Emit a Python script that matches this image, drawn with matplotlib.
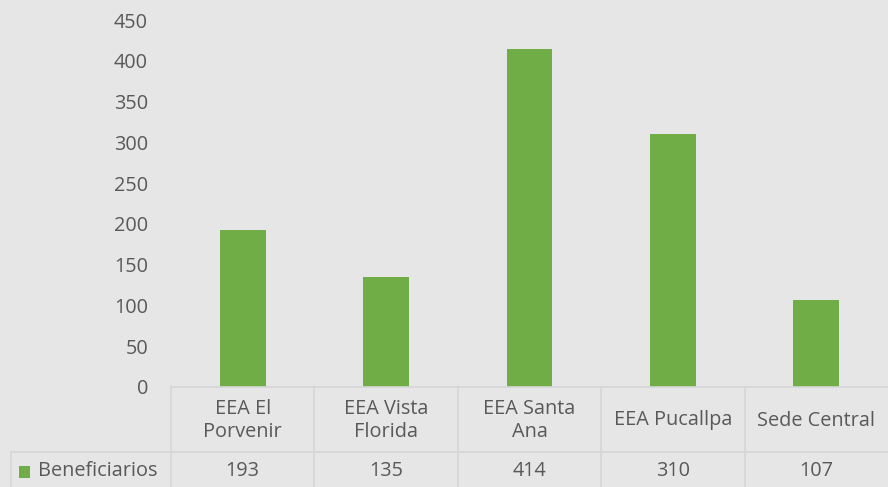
import matplotlib.pyplot as plt
from matplotlib.lines import Line2D
from matplotlib.patches import Rectangle
import matplotlib.transforms as mtransforms

categories = ['EEA El\nPorvenir', 'EEA Vista\nFlorida', 'EEA Santa\nAna', 'EEA Pucallpa', 'Sede Central']
values = [193, 135, 414, 310, 107]
series_name = 'Beneficiarios'
yticks = [0, 50, 100, 150, 200, 250, 300, 350, 400, 450]

BG = '#E7E6E6'
GREEN = '#70AD47'
TXT = '#595959'
GRID = '#D6D6D6'
FS = 14.3

plt.rcParams['font.family'] = ['Open Sans', 'DejaVu Sans']

W, H = 888, 487
fig = plt.figure(figsize=(W / 100, H / 100), dpi=100, facecolor=BG)

# plot area in pixel coords
x0, x1 = 171, 888
y_zero, y_top = 387, 20
ax = fig.add_axes([x0 / W, (H - y_zero) / H, (x1 - x0) / W, (y_zero - y_top) / H])
ax.set_facecolor(BG)

xs = list(range(len(categories)))
ax.bar(xs, values, width=0.32, color=GREEN)
ax.set_xlim(-0.5, len(categories) - 0.5)
ax.set_ylim(0, 450)
ax.set_yticks(yticks)
ax.set_yticklabels([str(t) for t in yticks], color=TXT, fontsize=FS)
ax.tick_params(axis='y', length=0, pad=16.5)
ax.set_xticks([])
for s in ax.spines.values():
    s.set_visible(False)


def fy(y):
    return (H - y) / H


# data table under the chart
blend = mtransforms.blended_transform_factory(ax.transData, fig.transFigure)
row1 = 452
lw = 1.2
fig.add_artist(Line2D([x0 / W, 1], [fy(y_zero), fy(y_zero)], color=GRID, lw=lw))
fig.add_artist(Line2D([11 / W, 1], [fy(row1), fy(row1)], color=GRID, lw=lw))
fig.add_artist(Line2D([11 / W, 11 / W], [fy(row1), 0], color=GRID, lw=lw))
for i in range(len(categories)):
    xb = i - 0.5
    fig.add_artist(Line2D([xb, xb], [fy(y_zero), 0], color=GRID, lw=lw, transform=blend))

for i, (c, v) in enumerate(zip(categories, values)):
    fig.text(i, fy((y_zero + row1) / 2 + 1), c, transform=blend, ha='center', va='center',
             color=TXT, fontsize=FS, linespacing=1.2)
    fig.text(i, fy(471), str(v), transform=blend, ha='center', va='center',
             color=TXT, fontsize=FS)

fig.add_artist(Rectangle((19 / W, fy(478)), 11 / W, 12 / H, transform=fig.transFigure,
                         color=GREEN, lw=0))
fig.text(38 / W, fy(471), series_name, ha='left', va='center', color=TXT, fontsize=FS)

fig.savefig('out.png', dpi=100, facecolor=BG)
